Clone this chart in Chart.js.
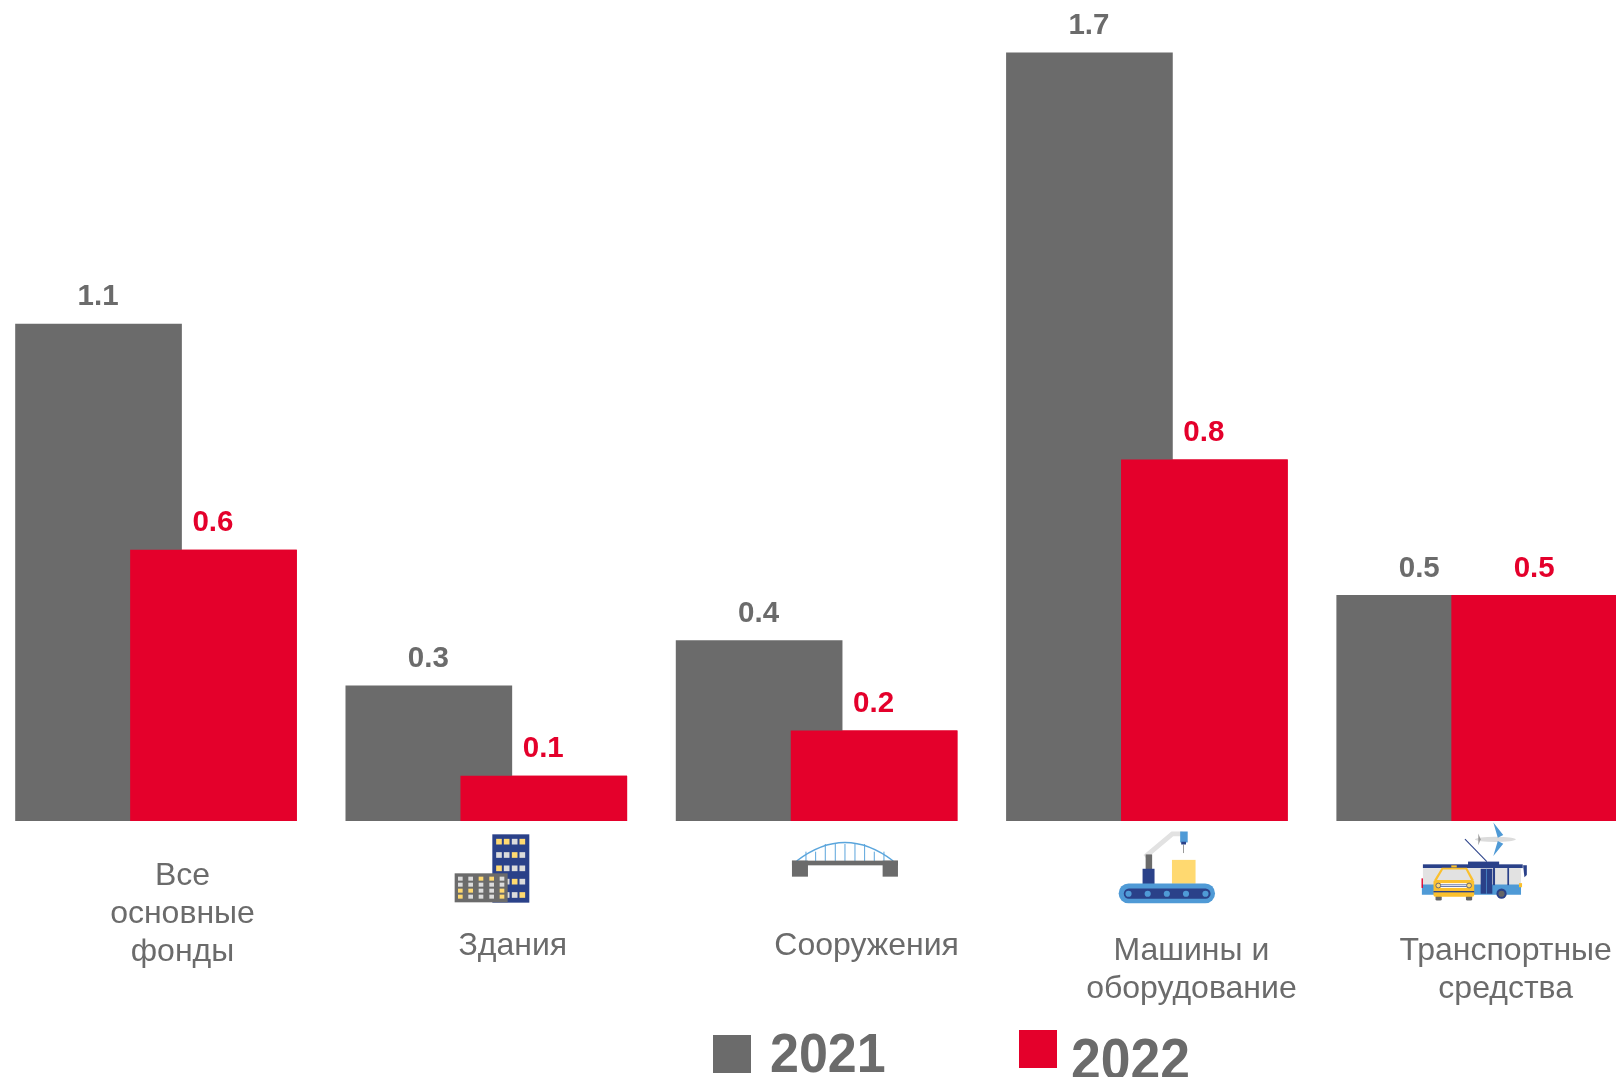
<!DOCTYPE html>
<html><head><meta charset="utf-8">
<style>
html,body{margin:0;padding:0;background:#fff;width:1616px;height:1077px;overflow:hidden;position:relative}
#c{position:absolute;left:-42px;top:0}
#icons{position:absolute;left:0;top:0}
</style>
<script src="https://cdn.jsdelivr.net/npm/chart.js@4/dist/chart.umd.min.js"></script>
</head><body>
<canvas id="c" width="1700" height="1077"></canvas>
<svg id="icons" width="1616" height="1077" viewBox="0 0 1616 1077"></svg>
<script>
const categories = [["Все","основные","фонды"],["Здания"],["Сооружения"],["Машины и","оборудование"],["Транспортные","средства"]];
const years = ["2021","2022"];
const values2021 = [1.1,0.3,0.4,1.7,0.5];
const values2022 = [0.6,0.1,0.2,0.8,0.5];
const GREY="#6b6b6b", RED="#e4002b", NAVY="#2a4189", BLUE="#4f9ad6", LG="#dcdcdc", YEL="#ffd970", CAB="#fbc02d";
const labelOffsetX=[26.5,26.5,50,44.5,28.5];
const labelFirstY=[876,946,946,951,951];
const labelLine=38;
const canvasLeft=42;
const legendItems=[
 {sq:[713,1035,38,38],color:GREY,tx:770,ty:1072,size:52},
 {sq:[1019,1030,38,38],color:RED,tx:1071,ty:1079,size:53.5}];

const overlay={id:'overlay',afterDatasetsDraw(chart){
  const ctx=chart.ctx;ctx.save();
  // the later series sits in front of the earlier one
  chart.getDatasetMeta(1).data.forEach(b=>b.draw(ctx));
  ctx.textAlign='center';ctx.textBaseline='middle';
  ctx.font='bold 29.5px "Liberation Sans"';
  chart.data.datasets.forEach((ds,d)=>{
    ctx.fillStyle=ds.backgroundColor;
    chart.getDatasetMeta(d).data.forEach((b,i)=>ctx.fillText(ds.data[i].toFixed(1),b.x-0.5,b.y-26.5));
  });
  ctx.fillStyle=GREY;ctx.font='32px "Liberation Sans"';
  categories.forEach((lines,i)=>{
    const x=chart.scales.x.getPixelForValue(i)+labelOffsetX[i];
    lines.forEach((t,k)=>ctx.fillText(t,x,labelFirstY[i]+k*labelLine));
  });
  ctx.textAlign='left';ctx.textBaseline='alphabetic';
  legendItems.forEach((l,i)=>{
    ctx.fillStyle=l.color;ctx.fillRect(l.sq[0]+canvasLeft,l.sq[1],l.sq[2],l.sq[3]);
    ctx.save();ctx.translate(l.tx+canvasLeft,l.ty);ctx.scale(1,1.06);
    ctx.fillStyle=GREY;ctx.font='bold '+l.size+'px "Liberation Sans"';ctx.fillText(years[i],0,0);ctx.restore();
  });
  ctx.restore();
}};

new Chart(document.getElementById('c'),{
  type:'bar',
  data:{labels:categories.map(c=>c.join(' ')),datasets:[
    {label:years[0],data:values2021,backgroundColor:GREY},
    {label:years[1],data:values2022,backgroundColor:RED}
  ]},
  options:{
    responsive:false,animation:false,
    categoryPercentage:0.696,barPercentage:1.45,
    layout:{padding:{left:32.85,right:15.65,top:7.4,bottom:256}},
    plugins:{legend:{display:false},tooltip:{enabled:false}},
    scales:{x:{display:false},y:{display:false,min:0,max:1.8}}
  },
  plugins:[overlay]
});

// decorative icons
function rect(x,y,w,h,f,rx){return `<rect x="${x}" y="${y}" width="${w}" height="${h}" fill="${f}"${rx?` rx="${rx}"`:''}/>`}
let s='';
// building, bridge
s+='<g transform="translate(400 800) scale(.3333)">';
s+=rect(277,103,111,205,NAVY);
const bw=[["Y","Y","G","Y"],["G","G","Y","G"],["Y","G","G","G"],["G","G","Y","G"],["G","G","G","Y"]];
[125,165,205,245,285].forEach((y,r)=>[297,320,344,367].forEach((x,c)=>{s+=rect(x-8.5,y-8.5,17,17,bw[r][c]=="Y"?YEL:LG)}));
s+=rect(164,220,159,87,GREY);
const sw=[["G","G","Y","Y","G"],["G","G","G","G","G"],["Y","Y","G","G","Y"],["Y","G","G","G","Y"]];
[236,254,272,290].forEach((y,r)=>[181,212,243,275,306].forEach((x,c)=>{s+=rect(x-7,y-6,14,12,sw[r][c]=="Y"?YEL:LG)}));
s+=`<path d="M1190 183 Q1335 72 1480 183" fill="none" stroke="#5aa5dc" stroke-width="4"/>`;
[1218,1247,1276,1306,1335,1365,1394,1423,1452].forEach(x=>{s+=`<line x1="${x}" x2="${x}" y1="${x<1250||x>1420?155:132}" y2="183" stroke="#5aa5dc" stroke-width="3"/>`});
s+=rect(1176,182,318,14,GREY)+rect(1176,182,48,48,GREY)+rect(1448,182,46,48,GREY);
s+='</g>';
// machine, transport
s+='<g transform="translate(1080 798) scale(.34188)">';
s+=`<polyline points="190,172 270,105 300,105" fill="none" stroke="#e2e2e2" stroke-width="14"/>`;
s+=rect(192,165,19,45,GREY)+rect(183,207,35,46,NAVY)+rect(269,181,69,70,YEL);
s+=rect(293,98,22,32,BLUE)+rect(296,128,14,8,NAVY)+rect(302,136,2,25,GREY);
s+=rect(113,250,282,58,BLUE,29)+rect(128,265,254,30,NAVY,15);
[142,198,254,310,367].forEach(x=>{s+=`<circle cx="${x}" cy="280" r="9" fill="${BLUE}"/>`});
s+=`<line x1="1126" y1="120" x2="1190" y2="186" stroke="${NAVY}" stroke-width="3"/>`;
s+=`<ellipse cx="1215" cy="121" rx="60" ry="8" fill="#dcdcdc"/><path d="M1209 72 L1238 108 L1222 116Z M1222 126 L1238 134 L1209 170Z" fill="#4f9ad6"/><path d="M1165 104 L1172 121 L1165 138Z" fill="#999"/>`;
s+=rect(1135,186,91,10,NAVY)+rect(1003,194,292,11,NAVY)+rect(1003,205,287,50,"#e2e2e2")+rect(1000,253,290,30,BLUE);
s+=rect(1208,205,6,50,NAVY)+rect(1250,205,5,50,NAVY)+rect(1172,207,34,73,NAVY)+rect(1188,207,2,73,BLUE)+rect(1284,249,9,12,CAB)+rect(999,235,4,28,RED);
s+=`<circle cx="1233" cy="280" r="15" fill="${NAVY}"/><circle cx="1233" cy="280" r="9" fill="#666"/>`;
s+=`<path d="M1296 197 L1307 197 L1307 225 L1300 232 Z" fill="${NAVY}"/>`;
s+=rect(1040,286,18,14,"#666",4)+rect(1129,286,18,14,"#666",4);
s+=`<path d="M1036 240 L1058 204 L1132 204 L1152 240Z" fill="${CAB}"/><path d="M1044 240 L1062 209 L1128 209 L1144 240Z" fill="#e2e2e2"/>`;
s+=rect(1034,240,119,49,CAB,5)+rect(1034,272,119,4,NAVY)+rect(1055,249,76,14,"#fff")+rect(1055,253,76,2,NAVY)+rect(1055,258,76,2,NAVY)+rect(1086,197,16,6,CAB);
s+=`<circle cx="1048" cy="256" r="7" fill="${YEL}" stroke="${NAVY}" stroke-width="2"/><circle cx="1138" cy="256" r="7" fill="${YEL}" stroke="${NAVY}" stroke-width="2"/>`;
s+='</g>';
document.getElementById('icons').innerHTML=s;
</script>
</body></html>
